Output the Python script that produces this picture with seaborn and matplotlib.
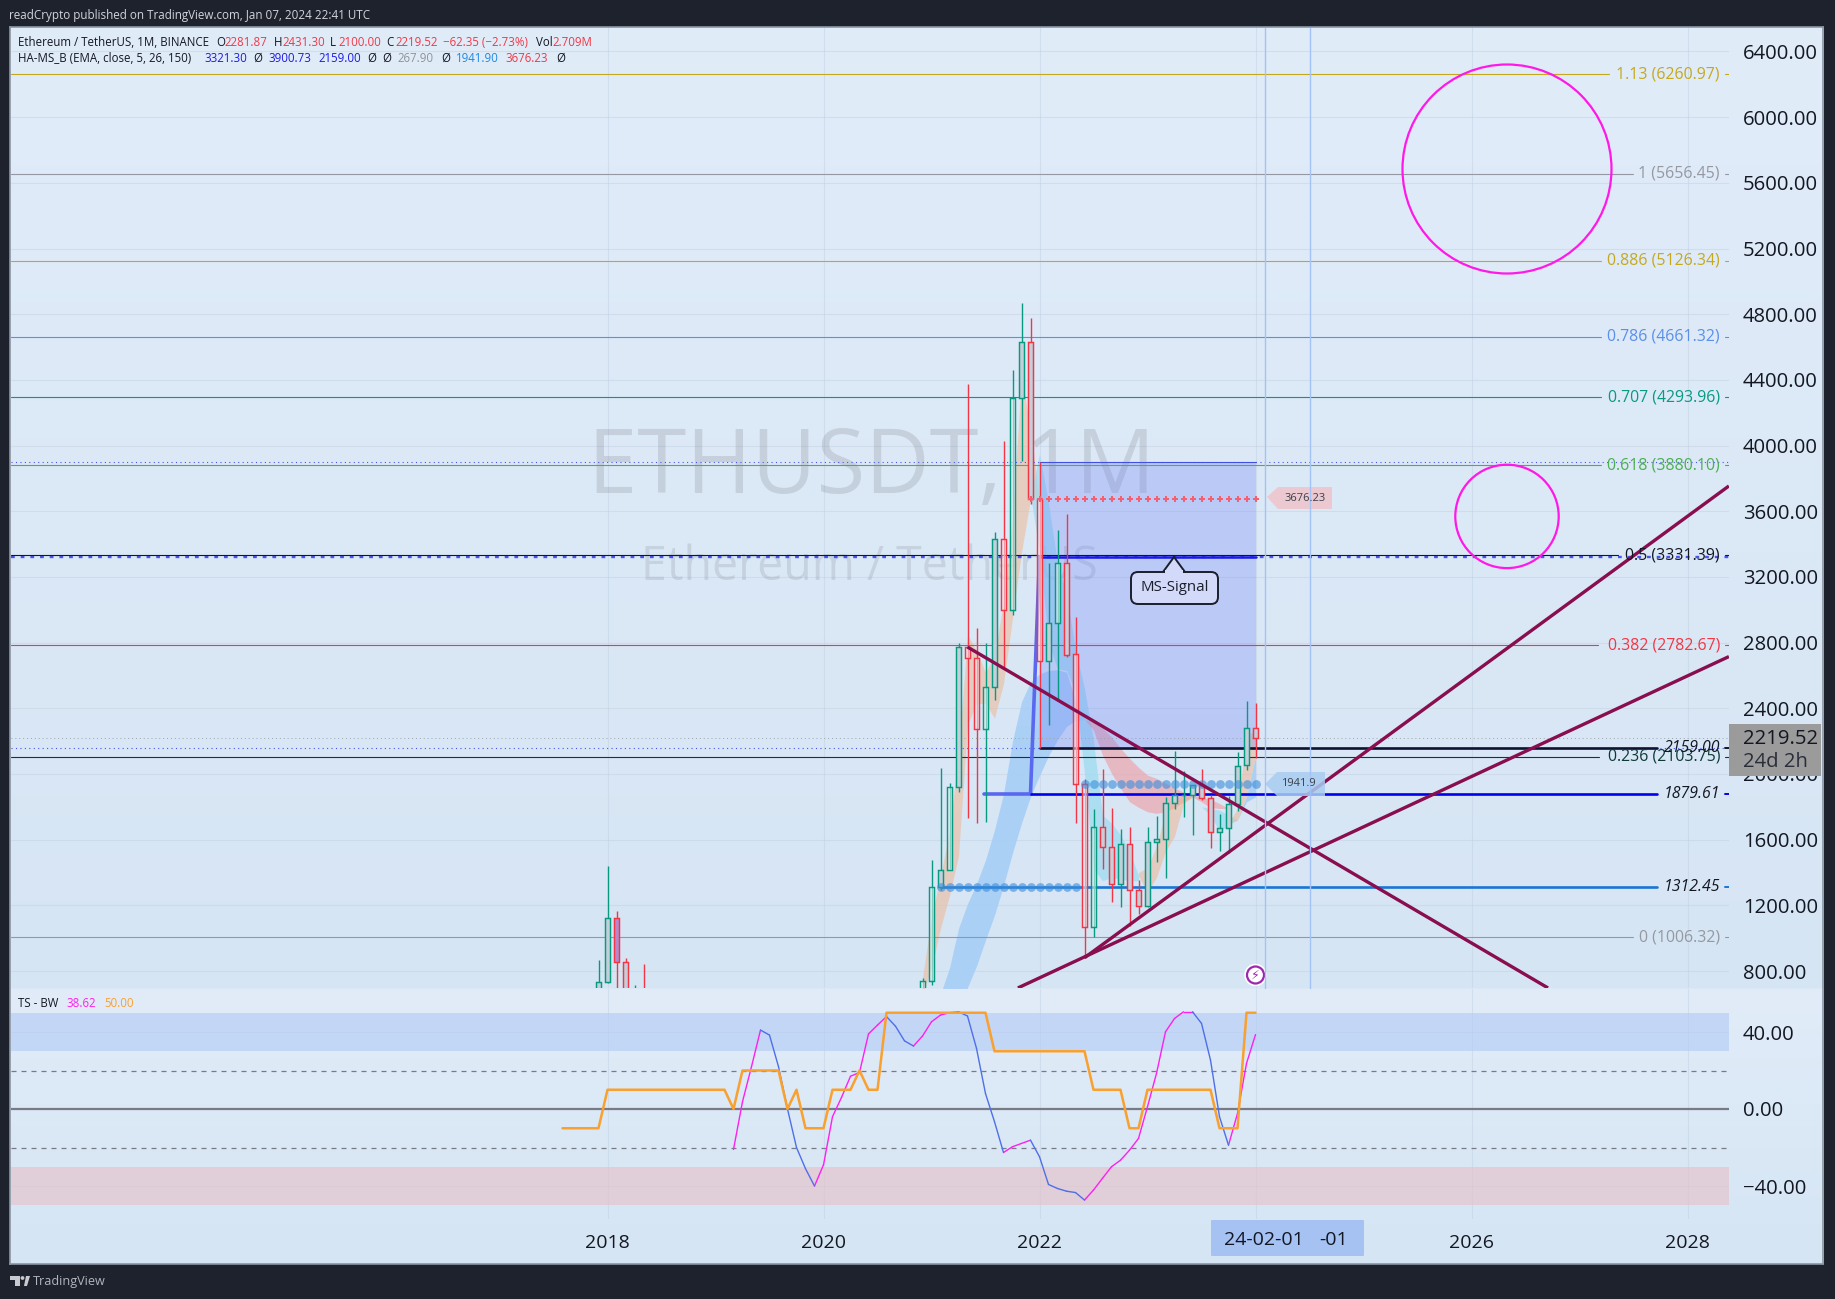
import numpy as np
import pandas as pd
import matplotlib
matplotlib.use("Agg")
import matplotlib.pyplot as plt
import seaborn as sns
from matplotlib.patches import Polygon, Circle, FancyBboxPatch, Rectangle

# months are counted from Jan 2018 (0) on the x axis
candle_month = [-1, 0, 1, 2, 3, 4] + list(range(35, 73))
candle_open = [445, 733, 1125, 855, 396, 669,
               616, 737, 1312, 1418, 1918, 2772, 2707, 2274, 2530, 3430, 3000, 4288,
               4630, 3676, 2687, 2919, 3282, 2728, 1942, 1071, 1678, 1553, 1328, 1572,
               1294, 1196, 1585, 1605, 1822, 1870, 1874, 1933, 1856, 1646, 1670, 1815,
               2052, 2281]
candle_high = [868, 1440, 1166, 880, 715, 842,
               757, 1477, 2039, 1948, 2800, 4372, 2891, 2800, 3474, 4027, 4460, 4868,
               4778, 3900, 3283, 3483, 3581, 2955, 1972, 1785, 2030, 1790, 1664, 1680,
               1352, 1680, 1743, 1857, 2141, 2019, 1930, 2029, 1871, 1754, 1865, 2136,
               2445, 2431]
candle_low = [380, 726, 572, 366, 360, 450,
              550, 714, 1293, 1421, 1890, 1733, 1700, 1706, 2450, 2652, 2966, 3905,
              3643, 2159, 2300, 2445, 2711, 1704, 881, 1006, 1422, 1220, 1190, 1073,
              1150, 1190, 1461, 1368, 1785, 1740, 1626, 1844, 1550, 1531, 1521, 1776,
              2025, 2100]
candle_close = [731, 1125, 855, 396, 669, 578,
                737, 1312, 1418, 1918, 2773, 2706, 2275, 2531, 3433, 3001, 4287, 4630,
                3676, 2687, 2919, 3282, 2727, 1941, 1071, 1678, 1553, 1328, 1572, 1294,
                1196, 1585, 1605, 1821, 1870, 1874, 1933, 1856, 1645, 1670, 1815, 2051,
                2281, 2219]
pale_body_months = [35, 36, 38, 40, 41, 42, 44, 45, 48, 50, 52, 53, 54]

# moving average ribbons
blue_months = list(range(37, 54))
blue_top = [660, 820, 1060, 1210, 1330, 1476, 1660, 1880, 2200, 2440, 2560, 2610, 2630, 2635, 2620, 2450, 2330]
blue_bot = [300, 420, 560, 700, 830, 989, 1140, 1320, 1520, 1700, 1862, 1990, 2110, 2210, 2290, 2325, 2330]
tan_months = list(range(35, 49))
tan_top = [760, 1130, 1380, 1650, 2130, 2850, 2750, 2620, 2720, 3050, 3560, 4420, 4100, 3676]
tan_bot = [650, 820, 1060, 1260, 1500, 2300, 2430, 2430, 2340, 2550, 2950, 3350, 3676, 3676]
cyan_months = list(range(47, 60))
cyan_top = [3700, 3950, 3650, 3280, 3100, 2755, 2520, 2200, 1750, 1700, 1630, 1530, 1380]
cyan_bot = [3700, 3350, 2800, 2640, 2630, 2500, 2000, 1420, 1350, 1370, 1360, 1350, 1350]
pink_months = list(range(53, 70))
pink_top = [2330, 2318, 2278, 2227, 2156, 2095, 2040, 1993, 1973, 1945, 1915, 1890, 1870, 1860, 1845, 1820, 1790]
pink_bot = [2330, 2268, 2115, 2004, 1913, 1831, 1797, 1770, 1760, 1770, 1795, 1830, 1860, 1830, 1795, 1790, 1790]
tan2_months = list(range(59, 66))
tan2_top = [1400, 1430, 1560, 1770, 1840, 1860, 1860]
tan2_bot = [1380, 1280, 1370, 1530, 1620, 1820, 1860]
cyan2_months = [66, 67, 68, 69, 70]
cyan2_top = [1800, 1790, 1780, 1750, 1720]
cyan2_bot = [1800, 1750, 1650, 1690, 1720]
tan3_months = [69, 70, 71, 72]
tan3_top = [1700, 1790, 2230, 2268]
tan3_bot = [1700, 1720, 1862, 2105]
blue2_months = [70, 71, 72]
blue2_top = [1720, 1862, 2105]
blue2_bot = [1720, 1830, 1860]

# fib levels: label, price, colour
fib_labels = ["1.13 (6260.97)", "1 (5656.45)", "0.886 (5126.34)", "0.786 (4661.32)", "0.707 (4293.96)",
              "0.618 (3880.10)", "0.5 (3331.39)", "0.382 (2782.67)", "0.236 (2103.75)", "0 (1006.32)"]
fib_prices = [6260.97, 5656.45, 5126.34, 4661.32, 4293.96, 3880.10, 3331.39, 2782.67, 2103.75, 1006.32]
fib_colors = ["#c4a91e", "#9598a1", "#c4a91e", "#5b8fe8", "#089981", "#4caf50", "#131722", "#f23645", "#0e3a36", "#9598a1"]
fib_line_end_px = [1609, 1633, 1601, 1601, 1601, 1601, 1618, 1598, 1599, 1633]

# trend lines as (month, price) ends
trend_a = ([40, 104.5], [2773, 697])
trend_b = ([53, 124.6], [881, 3754])
trend_c = ([45.6, 124.6], [697, 2715])

# TS - BW pane
wave_month = list(range(14, 73))
wave_vals = [-21, 3.8, 22, 41, 38.4, 22, 0, -20, -31, -40, -29, -4, 6, 17, 19, 39, 43.6, 48, 43, 35.4,
             32.7, 37.9, 45.3, 48.8, 50, 50.5, 48.3, 31.5, 8, -6.6, -22.6, -19.6, -17.9, -16.2, -24.8,
             -39.2, -41.3, -42.7, -43.4, -47.3, -42.1, -36, -30, -26.6, -21.4, -15.3, 1.2, 18.5, 40.1,
             47, 50.5, 50.5, 44.5, 25.4, -4, -18.8, -2.3, 23.7, 38.62]
step_month = list(range(-5, 73))
step_vals = ([-10] * 5 + [10] * 14 + [0] + [20] * 5 + [0, 10] + [-10] * 3 + [10] * 3 + [20, 10, 10]
             + [50] * 12 + [30] * 11 + [10] * 4 + [-10] * 2 + [10] * 8 + [-10] * 3 + [50] * 2)

price_ticks = list(range(800, 6800, 400))
wave_ticks = [40, 0, -40]
year_months = [0, 24, 48, 72, 96, 120]
year_labels = ["2018", "2020", "2022", "2024", "2026", "2028"]

W, H = 1835, 1299
LEFT, RIGHT, TOP, SPLIT, TIME_TOP, BOTTOM, SCALE_R = 11, 1729, 28, 988, 1219, 1263, 1822
FONT = "Open Sans"


def month_at(px):
    return (px - 607.5) / 9


def price_at(py):
    return 2400 + (708.3 - py) / 0.1642


def rect(x0, y0, x1, y1):
    return [x0 / W, 1 - y1 / H, (x1 - x0) / W, (y1 - y0) / H]


sns.set_theme(style="white")
plt.rcParams["font.family"] = [FONT, "DejaVu Sans"]

fig = plt.figure(figsize=(W / 100, H / 100), dpi=100, facecolor="#1e222d")

# panel background with the two pane gradients
bg = fig.add_axes(rect(LEFT - 1, TOP - 1, SCALE_R + 1, BOTTOM + 1), zorder=0)
top_c = np.array(matplotlib.colors.to_rgb("#e1ecf9"))
mid_c = np.array(matplotlib.colors.to_rgb("#d6e5f4"))
low_c = np.array(matplotlib.colors.to_rgb("#e1ecf8"))
end_c = np.array(matplotlib.colors.to_rgb("#d5e5f4"))
grad = np.vstack([np.linspace(top_c, mid_c, SPLIT - TOP), np.linspace(low_c, end_c, BOTTOM - SPLIT)])
bg.imshow(grad[:, None, :], aspect="auto")
bg.set_xticks([])
bg.set_yticks([])
for s in bg.spines.values():
    s.set_color("#8b95a3")
    s.set_linewidth(1.2)

ax = fig.add_axes(rect(LEFT, TOP, RIGHT, SPLIT), zorder=1)
ax2 = fig.add_axes(rect(LEFT, SPLIT + 1, RIGHT, TIME_TOP), zorder=1)
for a in (ax, ax2):
    a.patch.set_alpha(0)
    for s in a.spines.values():
        s.set_visible(False)
    a.set_xlim(month_at(LEFT), month_at(RIGHT))
    a.yaxis.tick_right()
    a.set_xticks(year_months)
    a.grid(True, color="#c4d3e4", lw=0.8, alpha=0.55, zorder=0)
    a.set_axisbelow(True)
    a.tick_params(axis="y", length=0, pad=10, labelsize=14.6, labelcolor="#131722")
ax.set_ylim(price_at(SPLIT), price_at(TOP))
ax.set_yticks(price_ticks)
ax.set_yticklabels([f"{p}.00" for p in price_ticks])
ax.tick_params(axis="x", length=0, labelbottom=False)

# watermark
ax.text(month_at(872), price_at(470), "ETHUSDT, 1M", fontsize=64, color="#787b86", alpha=0.22,
        ha="center", va="center", zorder=1)
ax.text(month_at(869), price_at(567), "Ethereum / TetherUS", fontsize=33.5, color="#787b86", alpha=0.2,
        ha="center", va="center", zorder=1)

# ribbons
ribbons = [(blue_months, blue_top, blue_bot, "#a4cdf7", 0.85), (tan_months, tan_top, tan_bot, "#f0b48c", 0.5),
           (cyan_months, cyan_top, cyan_bot, "#9adbf0", 0.7), (pink_months, pink_top, pink_bot, "#f09aa0", 0.6),
           (tan2_months, tan2_top, tan2_bot, "#f0b48c", 0.5), (cyan2_months, cyan2_top, cyan2_bot, "#9adbf0", 0.7),
           (tan3_months, tan3_top, tan3_bot, "#f0b48c", 0.5), (blue2_months, blue2_top, blue2_bot, "#a4cdf7", 0.85)]
for mm, t, b, c, al in ribbons:
    ax.fill_between(mm, b, t, color=c, alpha=al, lw=0, zorder=2)

# signal box
ax.fill_between([48, 72], [2159, 2159], [3900.73, 3900.73], color="#6a7cf7", alpha=0.28, lw=0, zorder=2)
ax.plot([48, 72], [3900.73, 3900.73], color="#3f4fe0", lw=0.8, zorder=3)

# dotted level lines over the whole width
x_full = [month_at(LEFT), month_at(RIGHT)]
ax.plot(x_full, [3900.73] * 2, color="#4a55e8", lw=0.8, ls=(0, (1, 3)), zorder=3)
ax.plot(x_full, [2159] * 2, color="#4a55e8", lw=0.8, ls=(0, (1, 3)), zorder=3)
ax.plot(x_full, [2219.52] * 2, color="#9aa3ad", lw=0.7, ls=(0, (1, 3)), zorder=3)
ax.plot(x_full, [3321.30] * 2, color="#4a55f0", lw=1.7, ls=(0, (1.6, 2.5)), zorder=3)

# fib lines and their labels
for lab, p, c, end in zip(fib_labels, fib_prices, fib_colors, fib_line_end_px):
    ax.plot([month_at(LEFT), month_at(end)], [p, p], color=c, lw=0.8, zorder=3)
    ax.plot([month_at(1725), month_at(RIGHT)], [p, p], color=c, lw=0.8, zorder=3)
    ax.text(month_at(1720), p, lab, color=c, fontsize=11.4, ha="right", va="center", zorder=7)

# MS lines
line_end = month_at(1657)
ax.plot([48, 72], [3321.30, 3321.30], color="#1a1ae6", lw=1.8, zorder=3)
ax.plot([48, line_end], [2159, 2159], color="#0e1230", lw=1.9, zorder=3)
ax.plot([41.8, 47], [1879.61, 1879.61], color="#5a68f0", lw=2.6, zorder=3)
ax.plot([47, 48], [1879.61, 3321.30], color="#5a68f0", lw=2.6, zorder=3)
ax.plot([47, line_end], [1879.61, 1879.61], color="#0000ee", lw=1.9, zorder=3)
ax.plot([37, line_end], [1312.45, 1312.45], color="#1976d2", lw=1.9, zorder=3)
for p, c, lab in [(2159, "#131722", "2159.00"), (1879.61, "#0000ee", "1879.61"), (1312.45, "#1976d2", "1312.45")]:
    ax.plot([month_at(1725), month_at(RIGHT)], [p, p], color=c, lw=1.4, zorder=3)
    ax.text(month_at(1720), p, lab, color="#131722", fontsize=11.4, style="italic", ha="right", va="center", zorder=7)

# candles
df = pd.DataFrame({"m": candle_month, "o": candle_open, "h": candle_high, "l": candle_low, "c": candle_close})
df["up"] = df["c"] >= df["o"]
df["col"] = np.where(df["up"], "#089981", "#f23645")
ax.vlines(df["m"], df["l"], df["h"], colors=df["col"], lw=1.0, zorder=4)
for r in df.itertuples():
    if r.m == 1:
        face = (0.70, 0.54, 0.82, 1)
    elif r.m in pale_body_months:
        face = (0.95, 0.96, 0.98, 0.55)
    else:
        face = (0.77, 0.81, 0.85, 1)
    ax.bar(r.m, abs(r.c - r.o), bottom=min(r.o, r.c), width=0.66, facecolor=face, edgecolor=r.col, lw=1.05, zorder=5)

# dots and crosses
dots_a = pd.DataFrame({"m": list(range(37, 53)), "p": 1312.45})
dots_b = pd.DataFrame({"m": list(range(53, 73)), "p": 1941.9})
cross = pd.DataFrame({"m": list(range(47, 73)), "p": 3676.23})
for d in (dots_a, dots_b):
    sns.scatterplot(data=d, x="m", y="p", s=40, color="#3f8fdc", alpha=0.62, linewidth=0, ax=ax, zorder=6, legend=False)
sns.scatterplot(data=cross, x="m", y="p", s=24, marker="P", color="#f4606e", linewidth=0, ax=ax, zorder=6, legend=False)

# trend lines
for xs, ys in (trend_a, trend_b, trend_c):
    ax.plot(xs, ys, color="#880e4f", lw=2.4, zorder=6, solid_capstyle="butt")
ax.set_xlabel("")
ax.set_ylabel("")
ax.set_xlim(month_at(LEFT), month_at(RIGHT))
ax.set_ylim(price_at(SPLIT), price_at(TOP))

# lower pane
ax2.set_ylim((1109 - TIME_TOP) / 1.925, (1109 - SPLIT - 1) / 1.925)
ax2.axhspan(30, 50, color="#b4ccf6", alpha=0.65, lw=0, zorder=1)
ax2.axhspan(-50, -30, color="#e6c0c8", alpha=0.62, lw=0, zorder=1)
ax2.axhline(0, color="#787b86", lw=1.6, zorder=2)
ax2.axhline(20, color="#787b86", lw=0.9, ls=(0, (4, 4)), zorder=2)
ax2.axhline(-20, color="#787b86", lw=0.9, ls=(0, (4, 4)), zorder=2)
ax2.set_yticks(wave_ticks)
ax2.set_yticklabels([f"{v:.2f}".replace("-", "\u2212") for v in wave_ticks])
ax2.set_xticklabels(year_labels)

# the wave is magenta going up and blue going down, each step its own unit
rows = []
for i in range(len(wave_vals) - 1):
    d = "up" if wave_vals[i + 1] >= wave_vals[i] else "down"
    rows.append((wave_month[i], wave_vals[i], i, d))
    rows.append((wave_month[i + 1], wave_vals[i + 1], i, d))
wave_df = pd.DataFrame(rows, columns=["m", "v", "seg", "dir"])
sns.lineplot(data=wave_df, x="m", y="v", hue="dir", units="seg", estimator=None,
             palette={"up": "#ff1ff0", "down": "#4f6fe8"}, lw=1.0, legend=False, ax=ax2, zorder=4)
step_df = pd.DataFrame({"m": step_month, "v": step_vals})
sns.lineplot(data=step_df, x="m", y="v", color="#f9a02e", lw=1.8, ax=ax2, zorder=5)
ax2.set_xlabel("")
ax2.set_ylabel("")
ax2.set_xlim(month_at(LEFT), month_at(RIGHT))
ax2.tick_params(axis="x", length=0, pad=11, labelsize=14, labelcolor="#131722")

# overlay in pixel coordinates for header, tags, callout, circles
ui = fig.add_axes([0, 0, 1, 1], zorder=5)
ui.set_xlim(0, W)
ui.set_ylim(H, 0)
ui.axis("off")
ui.patch.set_alpha(0)

ui.text(9, 15, "readCrypto published on TradingView.com, Jan 07, 2024 22:41 UTC", color="#d1d4dc",
        fontsize=8.4, va="center")
leg_size = 8.3
ui.text(18, 42, "Ethereum / TetherUS, 1M, BINANCE", color="#131722", fontsize=leg_size, va="center")
red = "#f23645"
for x, t, c in [(216, "O", "#131722"), (224.5, "2281.87", red), (273.7, "H", "#131722"), (282, "2431.30", red),
                (330, "L", "#131722"), (338, "2100.00", red), (386.6, "C", "#131722"), (395, "2219.52", red),
                (443, "\u221262.35 (\u22122.73%)", red), (536, "Vol", "#131722"), (552, "2.709M", red)]:
    ui.text(x, 42, t, color=c, fontsize=leg_size, va="center")
ui.text(18, 58.7, "HA-MS_B (EMA, close, 5, 26, 150)", color="#131722", fontsize=leg_size, va="center")
for x, t, c in [(204, "3321.30", "#1a1ae6"), (253.6, "\u00d8", "#131722"), (268.7, "3900.73", "#1a1ae6"),
                (318, "2159.00", "#1a1ae6"), (367.4, "\u00d8", "#131722"), (382.6, "\u00d8", "#131722"),
                (397.8, "267.90", "#8f9399"), (441, "\u00d8", "#131722"), (456, "1941.90", "#1e88e5"),
                (505, "3676.23", red), (556, "\u00d8", "#131722")]:
    ui.text(x, 58.7, t, color=c, fontsize=leg_size, va="center")
ui.text(18, 1003, "TS - BW", color="#131722", fontsize=leg_size, va="center")
ui.text(66.7, 1003, "38.62", color="#ff1ff0", fontsize=leg_size, va="center")
ui.text(104, 1003, "50.00", color="#f9a02e", fontsize=leg_size, va="center")

# vertical markers
for vx in (1265, 1309.5):
    ui.plot([vx, vx], [TOP, SPLIT], color="#a3c2f5", lw=1.0)

# circles
ui.add_patch(Circle((1507, 169), 104.5, fill=False, ec="#ff18e8", lw=1.6))
ui.add_patch(Circle((1507, 516.4), 51.7, fill=False, ec="#ff18e8", lw=1.6))

# value tags
ui.add_patch(Polygon([(1267, 497), (1278, 487), (1332, 487), (1332, 509), (1278, 509)], fc="#efc6cd", ec="none", alpha=0.9))
ui.text(1305, 498, "3676.23", fontsize=8, color="#3a3f4a", ha="center", va="center")
ui.add_patch(Polygon([(1265, 784), (1277, 772), (1325, 772), (1325, 796), (1277, 796)], fc="#a9cdf2", ec="none", alpha=0.85))
ui.text(1298, 783, "1941.9", fontsize=8, color="#3a3f4a", ha="center", va="center")
ui.add_patch(Rectangle((1729, 724), 92, 52, fc="#9b9b9b", ec="none"))
ui.text(1743, 739, "2219.52", fontsize=14.6, color="#131722", va="center")
ui.text(1743, 762, "24d 2h", fontsize=14.6, color="#2a2e39", va="center")

# MS-Signal callout
ui.add_patch(Polygon([(1163, 572), (1174, 557), (1185, 572)], fc="#d3daf9", ec="#1a1e2c", lw=1.4, zorder=3))
ui.add_patch(FancyBboxPatch((1131, 572), 87, 32, boxstyle="round,pad=0,rounding_size=7", fc="#d3daf9", ec="#1a1e2c", lw=1.4, zorder=3))
ui.add_patch(Rectangle((1165, 570), 18, 4, fc="#d3daf9", ec="none", zorder=4))
ui.text(1174.5, 587, "MS-Signal", fontsize=10.8, color="#1a1e2c", ha="center", va="center", zorder=5)

# lightning badge
ui.add_patch(Circle((1255.5, 975), 10.5, fc="white", ec="#ffffff", lw=1))
ui.add_patch(Circle((1255.5, 975), 8.5, fc="white", ec="#9c27b0", lw=1.6))
ui.text(1255.5, 975, "\u26a1", fontsize=9, color="#9c27b0", ha="center", va="center", family="DejaVu Sans")

# date tag
ui.add_patch(FancyBboxPatch((1211, 1220), 153, 36, boxstyle="round,pad=0,rounding_size=1", fc="#a5c2f3", ec="none"))
ui.text(1264, 1240, "24-02-01", fontsize=14, color="#131722", ha="center", va="center")
ui.text(1334, 1240, "-01", fontsize=14, color="#131722", ha="center", va="center")

# footer logo
ui.add_patch(Polygon([(10, 1276), (20, 1276), (20, 1286), (15, 1286), (15, 1280), (10, 1280)], fc="#c8cad0", ec="none"))
ui.add_patch(Circle((22.5, 1278), 1.9, fc="#c8cad0", ec="none"))
ui.add_patch(Polygon([(24, 1286), (26, 1276), (30, 1276), (27, 1286)], fc="#c8cad0", ec="none"))
ui.text(33, 1281.5, "TradingView", fontsize=9.1, color="#b2b5be", va="center")

fig.savefig("out.png", dpi=100, facecolor=fig.get_facecolor())
